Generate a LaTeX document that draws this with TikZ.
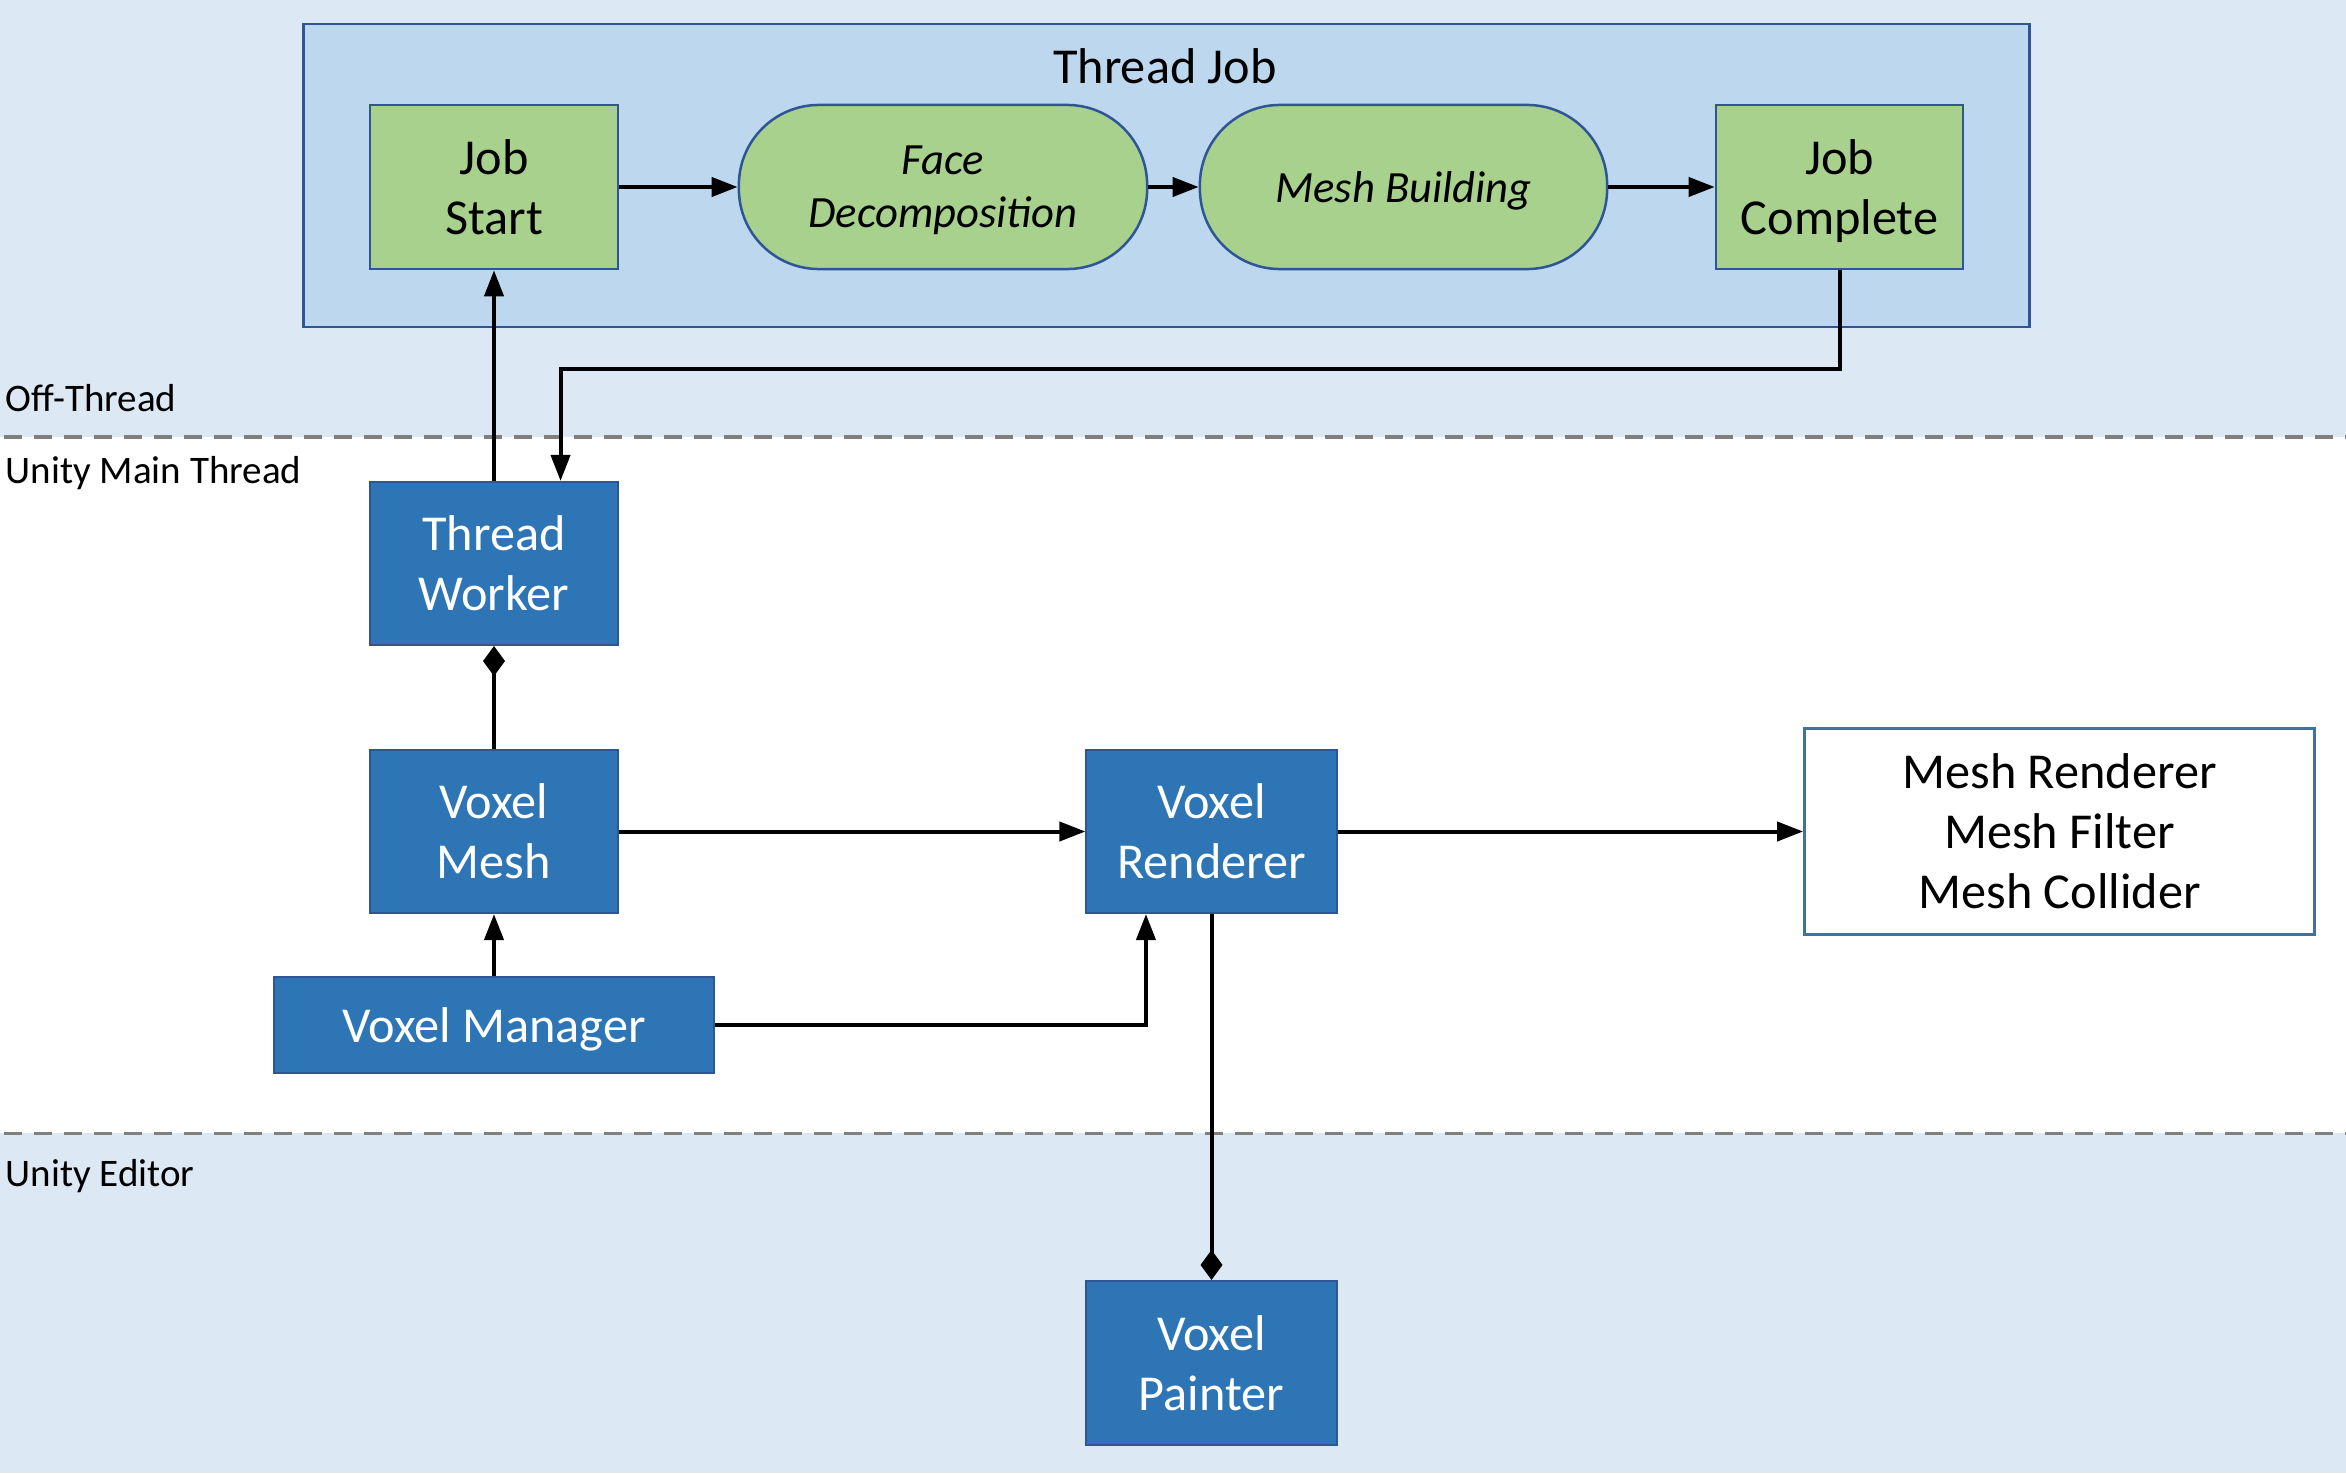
\documentclass[tikz,border=0pt]{standalone}
\usepackage{fontspec}
\setmainfont{Carlito}
\usetikzlibrary{arrows.meta,calc}
\definecolor{bandblue}{HTML}{DDE8F5}
\definecolor{jobblue}{HTML}{BDD7EE}
\definecolor{darkedge}{HTML}{2F5597}
\definecolor{greenfill}{HTML}{A9D18E}
\definecolor{boxblue}{HTML}{2E75B6}
\definecolor{meshedge}{HTML}{41719C}
\definecolor{dashgray}{HTML}{7F7F7F}
\newcommand\zerodepth[1]{\raisebox{0pt}[\height][0pt]{#1}}
\tikzset{
  greenbox/.style={draw=darkedge,line width=0.025cm,fill=greenfill,inner sep=0pt,align=center,
    minimum height=1.64cm,font=\fontsize{14.3}{17}\selectfont},
  greenpill/.style={greenbox,rounded corners=0.8cm,font=\fontsize{12.7}{15}\selectfont\itshape},
  bluebox/.style={draw=darkedge,line width=0.02cm,fill=boxblue,inner sep=0pt,align=center,
    text=white,font=\fontsize{14.3}{17}\selectfont},
  lanelabel/.style={anchor=west,inner sep=0pt,font=\fontsize{11.1}{13}\selectfont},
  conn/.style={line width=0.04cm,draw=black},
  arr/.style={conn,-{Triangle[length=0.26cm,width=0.19cm]}},
  dia/.style={conn,-{Diamond[length=0.3cm,width=0.22cm]}},
  lanedash/.style={draw=dashgray,line width=0.03cm,dash pattern=on 0.18cm off 0.12cm}
}
\begin{document}
\begin{tikzpicture}[x=0.01cm,y=-0.01cm]
\useasboundingbox (0,0) rectangle (2346,1473);
% bands
\fill[bandblue] (0,0) rectangle (2346,437);
\fill[bandblue] (0,1133) rectangle (2346,1473);
\draw[lanedash] (4,437) -- (2346,437);
\draw[lanedash] (4,1133) -- (2346,1133);
\node[lanelabel] (lbloff) at (5,398) {Off-Thread};
\node[lanelabel] (lblmain) at (5,473) {Unity Main Thread};
\node[lanelabel] (lbled) at (5,1176) {Unity Editor};
% thread job container
\node[draw=darkedge,line width=0.025cm,fill=jobblue,minimum width=17.25cm,minimum height=3.03cm,inner sep=0pt] (tj) at (1166.5,175.5) {};
\node[font=\fontsize{14.3}{17}\selectfont,inner sep=0pt] (tjtitle) at (1165,66) {Thread Job};
\node[greenbox,minimum width=2.48cm] (js) at (494,187) {Job\\Start};
\node[greenpill,minimum width=4.08cm] (fd) at (943,187) {Face\\\zerodepth{Decomposition}};
\node[greenpill,minimum width=4.07cm] (mb) at (1403.5,187) {\zerodepth{Mesh Building}};
\node[greenbox,minimum width=2.47cm] (jc) at (1839.5,187) {Job\\\zerodepth{Complete}};
% main thread boxes
\node[bluebox,minimum width=2.48cm,minimum height=1.63cm] (tw) at (494,563.5) {Thread\\Worker};
\node[bluebox,minimum width=2.48cm,minimum height=1.63cm] (vm) at (494,831.5) {Voxel\\Mesh};
\node[bluebox,minimum width=4.4cm,minimum height=0.96cm] (vman) at (494,1025) {\zerodepth{Voxel Manager}};
\node[bluebox,minimum width=2.5cm,minimum height=1.63cm] (vr) at (1211.5,831.5) {Voxel\\Renderer};
\node[bluebox,minimum width=2.5cm,minimum height=1.64cm] (vp) at (1211.5,1363) {Voxel\\Painter};
\node[draw=meshedge,line width=0.025cm,fill=white,minimum width=5.1cm,minimum height=2.06cm,inner sep=0pt,align=center,
  font=\fontsize{14.3}{17}\selectfont] (mesh) at (2059.5,831.5) {Mesh Renderer\\Mesh Filter\\Mesh Collider};
% connectors
\draw[arr] (js.east) -- (fd.west);
\draw[arr] (fd.east) -- (mb.west);
\draw[arr] (mb.east) -- (jc.west);
\draw[arr] (tw.north) -- (js.south);
\coordinate (twin) at ($(tw.north west)!0.766!(tw.north east)$);
\draw[arr] (jc.south) -- ++(0,99) -| (twin);
\draw[dia] (vm.north) -- (tw.south);
\draw[arr] (vman.north) -- (vm.south);
\coordinate (vrin) at ($(vr.south west)!0.24!(vr.south east)$);
\draw[arr] (vman.east) -| (vrin);
\draw[arr] (vm.east) -- (vr.west);
\draw[arr] (vr.east) -- (mesh.west);
\draw[dia] (vr.south) -- (vp.north);
\end{tikzpicture}
\end{document}
